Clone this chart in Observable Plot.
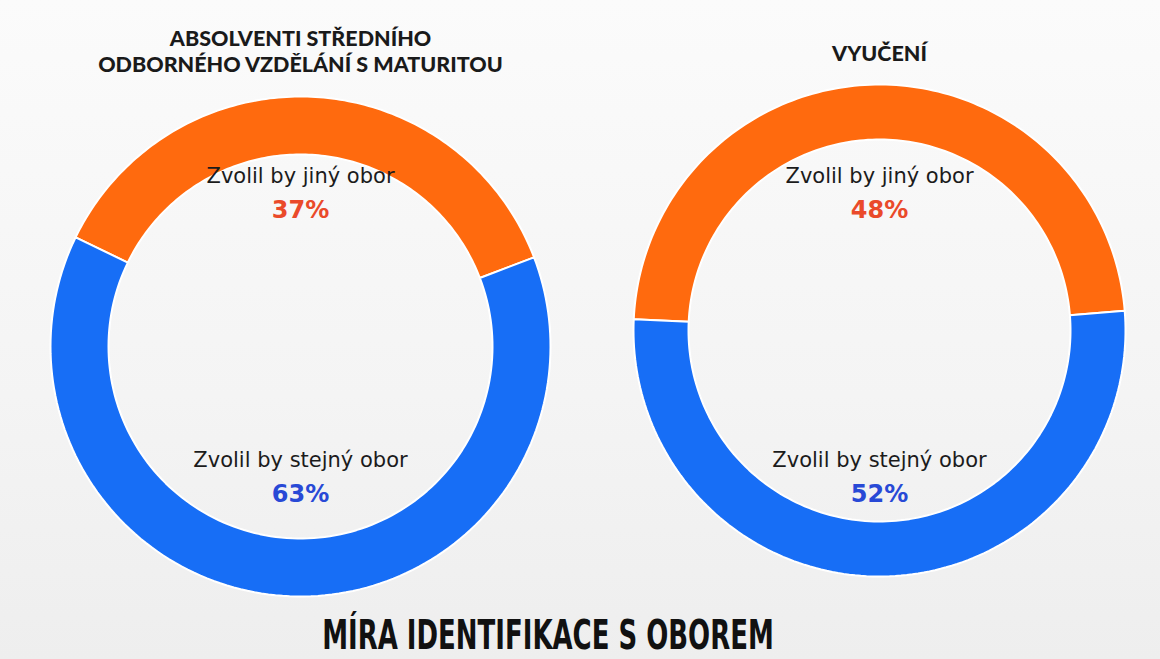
<!DOCTYPE html>
<html>
<head>
<meta charset="utf-8">
<script src="https://cdn.jsdelivr.net/npm/d3@7"></script>
<script src="https://cdn.jsdelivr.net/npm/@observablehq/plot@0.6"></script>
<style>
  html, body { margin: 0; padding: 0; }
  body {
    width: 1160px; height: 659px; overflow: hidden;
    background: linear-gradient(180deg, #fbfbfb 0%, #f4f4f4 60%, #eeeeee 100%);
    font-family: "Open Sans", sans-serif;
  }
  #chart svg { display: block; }
  #caption { width: 1160px; height: 53px; position: relative; }
  #caption span {
    position: absolute; left: 548px; top: 11px;
    transform: translateX(-50%) scaleX(0.722); transform-origin: 50% 50%;
    font-family: "DejaVu Sans Condensed", "DejaVu Sans", sans-serif;
    font-weight: 700; font-size: 40px; line-height: 36px; color: #111; white-space: nowrap;
  }
</style>
</head>
<body>
<div id="chart"></div>
<div id="caption"><span id="title"></span></div>
<script>
// ---- data ----
const groups = ["ABSOLVENTI STŘEDNÍHO\nODBORNÉHO VZDĚLÁNÍ S MATURITOU", "VYUČENÍ"];
const answers = ["Zvolil by jiný obor", "Zvolil by stejný obor"];
const jinyObor = [37, 48];     // %
const stejnyObor = [63, 52];   // %
const title = "MÍRA IDENTIFIKACE S OBOREM";

// ---- layout (pixels) ----
const W = 1160, H = 606;
const CX = [300, 879];           // donut centres x (px)
const CY = [346, 330];           // donut centres y (px)
const R = [250, 246];            // outer radii (px)
const THICK = [58, 55];          // ring thickness (px)
const ROT = [2.5, -1];           // rotation of the orange slice (deg)
const TITLE_TOP = [27, 42];      // top of title text (px)
const LABEL_Y = [176, 460];      // answer label (px)
const PCT_Y = [210, 494];        // percentage (px)

// build slices as polygons in pixel space
const slices = [];
groups.forEach((g, gi) => {
  const vals = [jinyObor[gi], stejnyObor[gi]];
  const total = d3.sum(vals);
  const ro = R[gi], ri = R[gi] - THICK[gi];
  let a = ROT[gi] - vals[0] / total * 180;
  vals.forEach((v, ai) => {
    const a0 = a, a1 = a + v / total * 360;
    a = a1;
    const key = gi + "-" + ai;
    const n = 140;
    const ang = d3.range(n + 1).map(i => (a0 + (a1 - a0) * i / n) * Math.PI / 180);
    const ring = [
      ...ang.map(t => [ro, t]),
      ...ang.slice().reverse().map(t => [ri, t]),
      [ro, ang[0]]
    ];
    ring.forEach(([r, t]) => slices.push({key, answer: answers[ai],
      x: CX[gi] + r * Math.sin(t), y: CY[gi] - r * Math.cos(t)}));
  });
});

const labels = [];
groups.forEach((g, gi) => {
  [jinyObor[gi], stejnyObor[gi]].forEach((v, ai) => {
    labels.push({group: g, answer: answers[ai], value: v, x: CX[gi], ly: LABEL_Y[ai], py: PCT_Y[ai]});
  });
});
const titles = groups.map((g, gi) => ({text: g, x: CX[gi], y: TITLE_TOP[gi]}));

const chart = Plot.plot({
  width: W, height: H, margin: 0,
  x: {domain: [0, W], range: [0, W], axis: null},
  y: {domain: [0, H], range: [0, H], axis: null},
  color: {domain: answers, range: ["#ff6a0e", "#176ef6"]},
  style: {background: "transparent", overflow: "visible"},
  marks: [
    Plot.line(slices, {x: "x", y: "y", z: "key", fill: "answer", stroke: "white", strokeWidth: 2, curve: "linear"}),
    Plot.text(titles, {x: "x", y: "y", text: "text", lineAnchor: "top", fontSize: 21.5, fontWeight: 900,
      fontFamily: "Lato, 'DejaVu Sans', sans-serif", fill: "#1a1a1a", lineHeight: 1.22}),
    Plot.text(labels, {x: "x", y: "ly", text: "answer", fontSize: 21, fontFamily: "'DejaVu Sans', sans-serif", fill: "#1b1b1b"}),
    Plot.text(labels, {x: "x", y: "py", text: d => d.value + "%", fontSize: 24, fontWeight: 700,
      fontFamily: "'DejaVu Sans', sans-serif", fill: d => d.answer === answers[0] ? "#ea4a2a" : "#2849d6"})
  ]
});
document.getElementById("chart").append(chart);
document.getElementById("title").textContent = title;
</script>
</body>
</html>
